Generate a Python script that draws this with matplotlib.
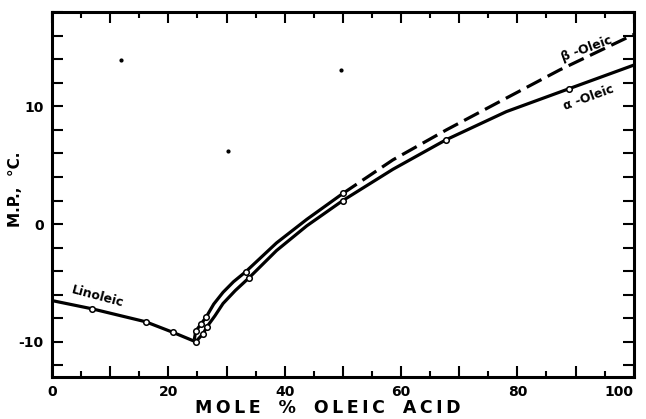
import matplotlib
matplotlib.use("Agg")
import matplotlib.pyplot as plt
from matplotlib.ticker import MultipleLocator, FuncFormatter

plt.rcParams['font.family'] = ['DejaVu Sans']
plt.rcParams['lines.scale_dashes'] = False

# --- datos (mol % oleico, p.f. en C) ---
# rama del linoleico
lin_x = [0, 6.9, 16.1, 20.8, 24.7]
lin_y = [-6.5, -7.2, -8.3, -9.2, -10.0]
lin_pts_x = [6.9, 16.1, 20.8]
lin_pts_y = [-7.2, -8.3, -9.2]

# alfa-oleico (linea continua)
alpha_x = [24.7, 26.0, 26.6, 28.0, 29.4, 31.5, 33.9, 38.6, 43.8, 50.0, 58.6, 67.7, 78.1, 88.9, 100.0]
alpha_y = [-10.0, -9.3, -8.75, -7.8, -6.75, -5.65, -4.55, -2.25, -0.15, 2.0, 4.65, 7.15, 9.55, 11.5, 13.5]
alpha_pts_x = [24.7, 26.0, 26.6, 33.9, 50.0, 67.7, 88.9]
alpha_pts_y = [-10.0, -9.3, -8.75, -4.55, 2.0, 7.15, 11.5]

# beta-oleico: continua hasta 50 %, luego discontinua
beta_x = [24.5, 24.7, 25.6, 26.5, 27.8, 29.4, 31.2, 33.3, 38.6, 43.8, 50.0]
beta_y = [-9.7, -9.1, -8.5, -7.9, -6.8, -5.8, -4.9, -4.05, -1.6, 0.4, 2.6]
beta_dash_x = [50.0, 58.6, 67.8, 78.1, 87.3, 100.0]
beta_dash_y = [2.6, 5.45, 8.0, 10.7, 13.1, 16.1]
beta_pts_x = [24.7, 25.6, 26.5, 33.3, 50.0]
beta_pts_y = [-9.1, -8.5, -7.9, -4.05, 2.6]

# motas del escaneo
speck_x = [11.9, 30.2, 49.7]
speck_y = [13.9, 6.2, 13.1]

x_ticks = list(range(0, 101, 10))
x_ticklabels = [str(v) if v % 20 == 0 else '' for v in x_ticks]

fig = plt.figure(figsize=(6.46, 4.19), dpi=100)
ax = fig.add_axes([0.0805, 0.100, 0.9005, 0.871])

lw = 2.3
ax.plot(lin_x, lin_y, color='black', lw=lw, solid_joinstyle='round')
ax.plot(alpha_x, alpha_y, color='black', lw=lw, solid_joinstyle='round')
ax.plot(beta_x, beta_y, color='black', lw=lw, solid_joinstyle='round')
ax.plot(beta_dash_x, beta_dash_y, color='black', lw=lw, linestyle=(0, (12, 5)))

mk = dict(linestyle='none', marker='o', markersize=4, markerfacecolor='white',
          markeredgecolor='black', markeredgewidth=1.1, zorder=5)
ax.plot(lin_pts_x, lin_pts_y, **mk)
ax.plot(alpha_pts_x, alpha_pts_y, **mk)
ax.plot(beta_pts_x, beta_pts_y, **mk)
ax.plot(speck_x, speck_y, linestyle='none', marker='o', markersize=2, color='black')

# etiquetas de las curvas
ax.text(7.8, -6.2, 'Linoleic', fontsize=9, fontweight='bold', rotation=-15,
        ha='center', va='center')
ax.text(92.0, 14.9, 'β -Oleic', fontsize=9, fontweight='bold', rotation=20,
        ha='center', va='center')
ax.text(92.2, 10.7, 'α -Oleic', fontsize=9, fontweight='bold', rotation=20,
        ha='center', va='center')

ax.set_xlim(0, 100)
ax.set_ylim(-13, 18)

ax.set_xticks(x_ticks)
ax.set_xticklabels(x_ticklabels, fontweight='bold')
ax.xaxis.set_minor_locator(MultipleLocator(5))
ax.yaxis.set_major_locator(MultipleLocator(2))
ax.yaxis.set_major_formatter(FuncFormatter(lambda v, p: '%d' % v if round(v) % 10 == 0 else ''))

ax.tick_params(which='both', direction='in', top=True, right=True, width=1.5, color='black')
ax.tick_params(which='major', length=8, pad=6, labelsize=10)
ax.tick_params(which='minor', length=4)
for lab in ax.get_yticklabels():
    lab.set_fontweight('bold')
# el "100" queda pegado al borde derecho
ax.get_xticklabels()[-1].set_horizontalalignment('right')
ax.get_xticklabels()[-1].set_x(1.0)
for sp in ax.spines.values():
    sp.set_linewidth(2.2)

# titulos de ejes con letras espaciadas
ts = '\u2009'
xlabel = '   '.join(ts.join(w) for w in ['MOLE', '%', 'OLEIC', 'ACID'])
fig.text(0.508, 0.026, xlabel, fontsize=12.5, fontweight='bold', ha='center', va='center')
fig.text(0.024, 0.547, 'M.P.,  °C.', fontsize=11, fontweight='bold', rotation=90,
         ha='center', va='center')

fig.savefig('out.png', dpi=100)
